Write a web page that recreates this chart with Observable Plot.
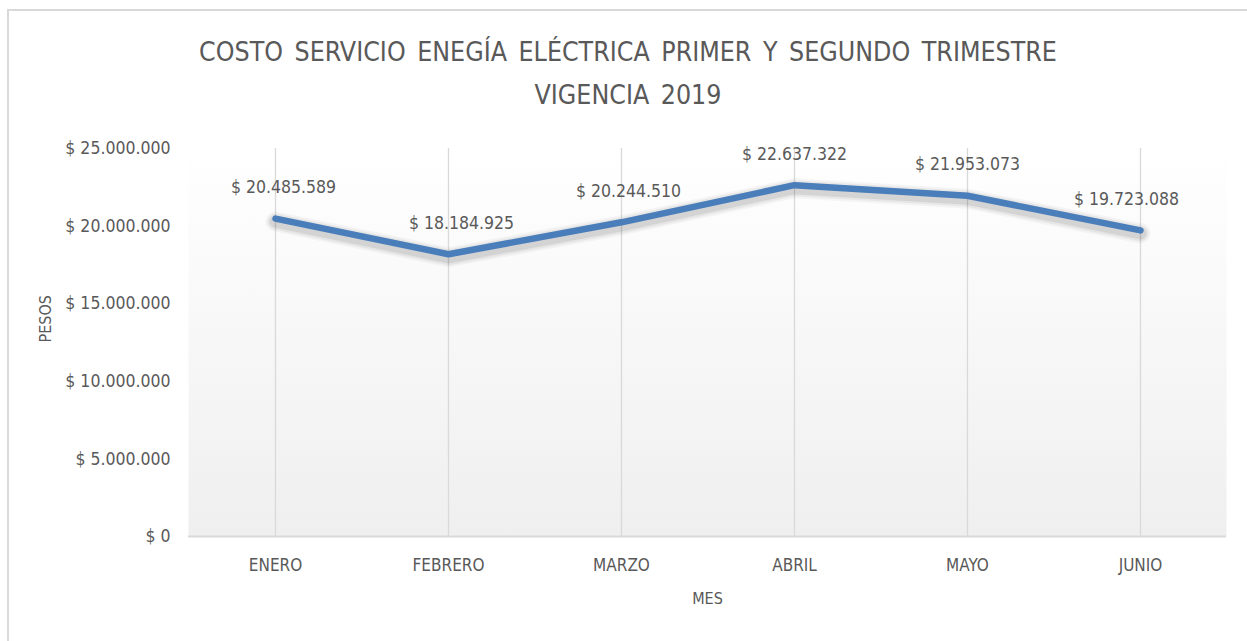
<!DOCTYPE html>
<html>
<head>
<meta charset="utf-8">
<script src="https://cdn.jsdelivr.net/npm/d3@7"></script>
<script src="https://cdn.jsdelivr.net/npm/@observablehq/plot@0.6"></script>
<style>
  html, body { margin: 0; padding: 0; background: #fff; }
  body { width: 1247px; height: 641px; overflow: hidden; position: relative;
         font-family: "DejaVu Sans Condensed", "Liberation Sans", sans-serif; }
  #frame { position: absolute; left: 7px; top: 9px; width: 1260px; height: 660px;
           border-top: 2px solid #d9d9d9; border-left: 2px solid #d9d9d9; box-sizing: border-box; }
  #title { position: absolute; left: 0; top: 30px; width: 1256px; text-align: center;
           color: #595959; font-size: 26.5px; line-height: 43px; word-spacing: 4px; }
  #chart { position: absolute; left: 0; top: 120px; }
</style>
</head>
<body>
<div id="frame"></div>
<div id="title">COSTO SERVICIO ENEGÍA ELÉCTRICA PRIMER Y SEGUNDO TRIMESTRE<br>VIGENCIA 2019</div>
<div id="chart"></div>
<script>
const months = ["ENERO", "FEBRERO", "MARZO", "ABRIL", "MAYO", "JUNIO"];
const costs = [20485589, 18184925, 20244510, 22637322, 21953073, 19723088];
const yTicks = [0, 5000000, 10000000, 15000000, 20000000, 25000000];
const labelShift = [8, 13, 7, 0, 0, -14];

const data = months.map((m, i) => ({ month: m, cost: costs[i] }));
const fmt = d => "$ " + d3.format(",")(d).replace(/,/g, ".");
const FONT = '"DejaVu Sans Condensed", "Liberation Sans", sans-serif';

const defs = () => {
  const g = d3.create("svg:defs");
  const lg = g.append("linearGradient").attr("id", "bg").attr("x1", 0).attr("y1", 0).attr("x2", 0).attr("y2", 1);
  lg.append("stop").attr("offset", "0%").attr("stop-color", "#ffffff");
  lg.append("stop").attr("offset", "100%").attr("stop-color", "#efefef");
  return g.node();
};

const shadow = (w, o, dy) => Plot.line(data, { x: "month", y: "cost", stroke: "#000", strokeOpacity: o, strokeWidth: w, dy, strokeLinecap: "round", strokeLinejoin: "round" });

const chart = Plot.plot({
  width: 1247,
  height: 521,
  marginLeft: 188,
  marginRight: 21,
  marginTop: 28,
  marginBottom: 105,
  style: { fontFamily: FONT, fontSize: "17.5px", color: "#595959", background: "transparent" },
  x: { type: "point", domain: months, padding: 0.5, label: null },
  y: { domain: [0, 25000000], label: null },
  marks: [
    defs,
    Plot.frame({ fill: "url(#bg)", stroke: null }),
    Plot.ruleX(months, { stroke: "#d9d9d9", strokeWidth: 1.3 }),
    Plot.ruleY([0], { stroke: "#d9d9d9", strokeWidth: 2 }),
    Plot.axisY({ ticks: yTicks, tickSize: 0, tickPadding: 18, tickFormat: fmt, fontSize: 17.5 }),
    Plot.axisX({ tickSize: 0, tickPadding: 22, fontSize: 17 }),
    shadow(20, 0.035, 3),
    shadow(16, 0.05, 3),
    shadow(12, 0.08, 3),
    Plot.line(data, { x: "month", y: "cost", stroke: "#4a7ebb", strokeWidth: 6.5, strokeLinecap: "round", strokeLinejoin: "round" }),
    Plot.text(data, { x: "month", y: "cost", text: d => fmt(d.cost), dy: -31, fill: "#595959", fontSize: 17.5, className: "vlabels" }),
    Plot.text(["PESOS"], { frameAnchor: "left", dx: -143, rotate: -90, fill: "#595959", fontSize: 16, letterSpacing: 1 }),
    Plot.text(["MES"], { frameAnchor: "bottom", dy: 67, fill: "#595959", fontSize: 16 })
  ]
});

document.getElementById("chart").appendChild(chart);

// small horizontal nudges of the value labels, like the original
d3.select(chart).select(".vlabels").selectAll("text").each(function (d, i) {
  const t = d3.select(this);
  const tr = t.attr("transform") || "";
  t.attr("transform", tr + ` translate(${labelShift[i] || 0},0)`);
});
</script>
</body>
</html>
